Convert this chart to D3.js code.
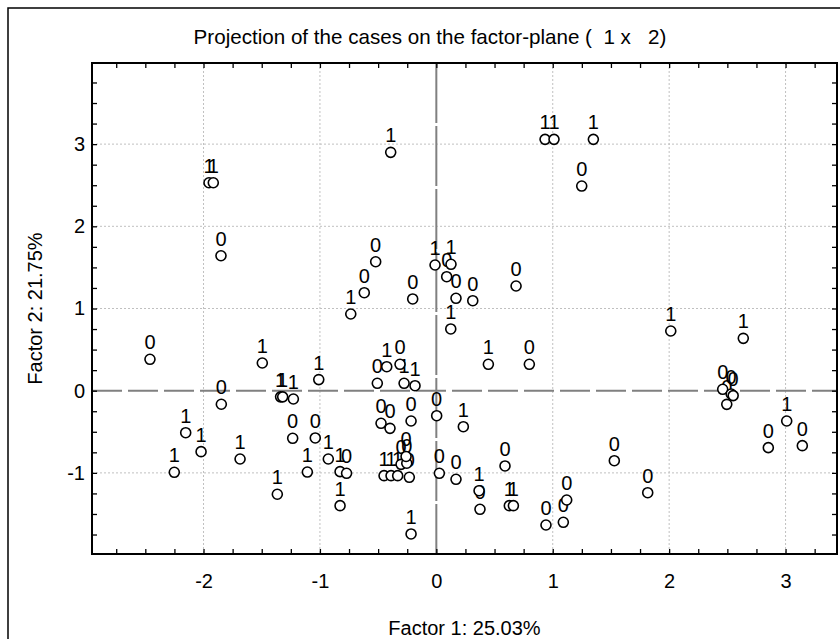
<!DOCTYPE html>
<html lang="en">
<head>
  <meta charset="UTF-8">
  <title>Projection of the cases on the factor-plane</title>
  <style>
    body { margin: 0; background: #fff; }
    svg text { font-family: "Liberation Sans", Arial, sans-serif; fill: #000; }
  </style>
</head>
<body>
<div id="chart"></div>

<script src="https://cdn.jsdelivr.net/npm/d3@7"></script>
<script>
// coordinates of the cases on factor 1 / factor 2, and the class label drawn above each
var factor1 = [-1.953, -1.916, -1.850, -2.460, -1.847, -2.153, -2.021, -2.251, -1.686, -1.495,
               -1.338, -1.320, -1.228, -1.010, -1.234, -1.040, -1.108, -1.366, -0.735, 0.124,
               0.447, 0.799, -0.507, -0.426, -0.312, -0.277, -0.183, 0.003, 0.232, -0.475,
               -0.398, -0.217, -0.928, -0.827, -0.771, -0.827, -0.449, -0.389, -0.332, -0.232,
               -0.303, -0.254, -0.260, -0.217, 0.026, 0.169, 0.367, 0.375, 0.590, 0.627,
               0.662, 0.942, 1.091, 1.120, -0.392, 0.934, 1.011, 1.249, 1.349, -0.521,
               -0.619, -0.203, -0.011, 0.126, 0.089, 0.169, 0.313, 0.685, 2.014, 2.637,
               2.460, 2.533, 2.550, 2.495, 3.010, 2.852, 3.144, 1.529, 1.816];
var factor2 = [2.530, 2.530, 1.642, 0.382, -0.165, -0.511, -0.742, -0.993, -0.831, 0.337,
               -0.075, -0.075, -0.101, 0.135, -0.579, -0.575, -0.990, -1.260, 0.933, 0.751,
               0.321, 0.321, 0.090, 0.292, 0.321, 0.090, 0.061, -0.304, -0.438, -0.397,
               -0.458, -0.369, -0.831, -0.985, -1.005, -1.399, -1.034, -1.034, -1.034, -1.054,
               -0.896, -0.883, -0.800, -1.743, -1.005, -1.078, -1.217, -1.443, -0.916, -1.399,
               -1.399, -1.634, -1.601, -1.330, 2.900, 3.058, 3.058, 2.490, 3.058, 1.569,
               1.192, 1.116, 1.529, 1.538, 1.387, 1.124, 1.095, 1.274, 0.726, 0.637,
               0.017, -0.040, -0.060, -0.166, -0.369, -0.693, -0.669, -0.852, -1.241];
var caseLabel = ["1","1","0","0","0","1","1","1","1","1",
                 "1","1","1","1","0","0","1","1","1","1",
                 "1","0","0","1","0","1","1","0","1","0",
                 "0","0","1","1","0","1","1","1","1","0",
                 "0","0","0","1","0","0","1","0","0","1",
                 "1","0","0","0","1","1","1","0","1","0",
                 "0","0","1","1","0","0","0","0","1","1",
                 "0","0","0","0","1","0","0","0","0"];

var xTicks = [-2, -1, 0, 1, 2, 3];
var yTicks = [-1, 0, 1, 2, 3];
var xMinor = d3.range(-2.75, 3.26, 0.25);
var yMinor = d3.range(-1.75, 3.76, 0.25);

var titleText = "Projection of the cases on the factor-plane (  1 x   2)";
var xTitle = "Factor 1: 25.03%";
var yTitle = "Factor 2: 21.75%";

var margin = {top: 63, left: 92},
    width = 745,
    height = 491;

var svg = d3.select("#chart")
  .append("svg")
    .attr("width", 840)
    .attr("height", 639);

// outer frame (only left/top edges fall inside the picture)
svg.append("rect")
  .attr("x", 8).attr("y", 8)
  .attr("width", 900).attr("height", 900)
  .attr("fill", "none")
  .attr("stroke", "#000")
  .attr("stroke-width", 1.5);

svg.append("text")
  .attr("x", 430).attr("y", 44)
  .attr("text-anchor", "middle")
  .attr("font-size", 20.6)
  .style("white-space", "pre")
  .attr("xml:space", "preserve")
  .text(titleText);

var g = svg.append("g")
  .attr("transform", "translate(" + margin.left + "," + margin.top + ")");

var x = d3.scaleLinear()
  .domain([-2.958, 3.442])
  .range([0, width]);

var y = d3.scaleLinear()
  .domain([-1.987, 3.987])
  .range([height, 0]);

// grid
g.append("g")
  .selectAll("line")
  .data(xTicks.filter(function (d) { return d !== 0; }))
  .enter().append("line")
    .attr("x1", function (d) { return x(d); })
    .attr("x2", function (d) { return x(d); })
    .attr("y1", 0).attr("y2", height)
    .attr("stroke", "#c0c0c0")
    .attr("stroke-dasharray", "2,2");

g.append("g")
  .selectAll("line")
  .data(yTicks.filter(function (d) { return d !== 0; }))
  .enter().append("line")
    .attr("y1", function (d) { return y(d); })
    .attr("y2", function (d) { return y(d); })
    .attr("x1", 0).attr("x2", width)
    .attr("stroke", "#c0c0c0")
    .attr("stroke-dasharray", "2,2");

// zero reference lines
g.append("line")
  .attr("x1", x(0)).attr("x2", x(0))
  .attr("y1", 0).attr("y2", height)
  .attr("stroke", "#808080")
  .attr("stroke-width", 2)
  .attr("stroke-dasharray", "60,3");

g.append("line")
  .attr("x1", 0).attr("x2", width)
  .attr("y1", y(0)).attr("y2", y(0))
  .attr("stroke", "#808080")
  .attr("stroke-width", 2)
  .attr("stroke-dasharray", "30,6");

// case labels then markers
g.append("g")
  .selectAll("text")
  .data(caseLabel)
  .enter().append("text")
    .attr("x", function (d, i) { return x(factor1[i]); })
    .attr("y", function (d, i) { return y(factor2[i]) - 10; })
    .attr("text-anchor", "middle")
    .attr("font-size", 20)
    .text(function (d) { return d; });

g.append("g")
  .selectAll("circle")
  .data(factor1)
  .enter().append("circle")
    .attr("cx", function (d) { return x(d); })
    .attr("cy", function (d, i) { return y(factor2[i]); })
    .attr("r", 5)
    .attr("fill", "#fff")
    .attr("stroke", "#000")
    .attr("stroke-width", 1.6);

// axes: ticks point inward on all four sides
function styleAxis(sel) {
  sel.select(".domain").remove();
  sel.selectAll(".tick line").attr("stroke", "#000").attr("stroke-width", 1.3);
  sel.selectAll("text").attr("font-size", 20).attr("fill", "#000")
    .attr("font-family", "'Liberation Sans', Arial, sans-serif");
}

function majorLabel(list) {
  return function (d) {
    var r = Math.round(d * 100) / 100;
    return list.indexOf(r) >= 0 ? String(r) : "";
  };
}

g.append("g")
  .attr("transform", "translate(0," + height + ")")
  .call(d3.axisBottom(x).tickValues(xMinor).tickSize(-5)
    .tickFormat(majorLabel(xTicks))
    .tickPadding(20))
  .call(styleAxis);

g.append("g")
  .call(d3.axisTop(x).tickValues(xMinor).tickSize(-5).tickFormat(""))
  .call(styleAxis);

g.append("g")
  .call(d3.axisLeft(y).tickValues(yMinor).tickSize(-5)
    .tickFormat(majorLabel(yTicks))
    .tickPadding(7))
  .call(styleAxis);

g.append("g")
  .attr("transform", "translate(" + width + ",0)")
  .call(d3.axisRight(y).tickValues(yMinor).tickSize(-5).tickFormat(""))
  .call(styleAxis);

// plot frame
g.append("rect")
  .attr("width", width).attr("height", height)
  .attr("fill", "none")
  .attr("stroke", "#000")
  .attr("stroke-width", 2);

// axis titles
svg.append("text")
  .attr("x", margin.left + width / 2).attr("y", 635)
  .attr("text-anchor", "middle")
  .attr("font-size", 20)
  .text(xTitle);

svg.append("text")
  .attr("transform", "translate(42," + (margin.top + height / 2) + ") rotate(-90)")
  .attr("text-anchor", "middle")
  .attr("font-size", 20)
  .text(yTitle);
</script>
</body>
</html>
